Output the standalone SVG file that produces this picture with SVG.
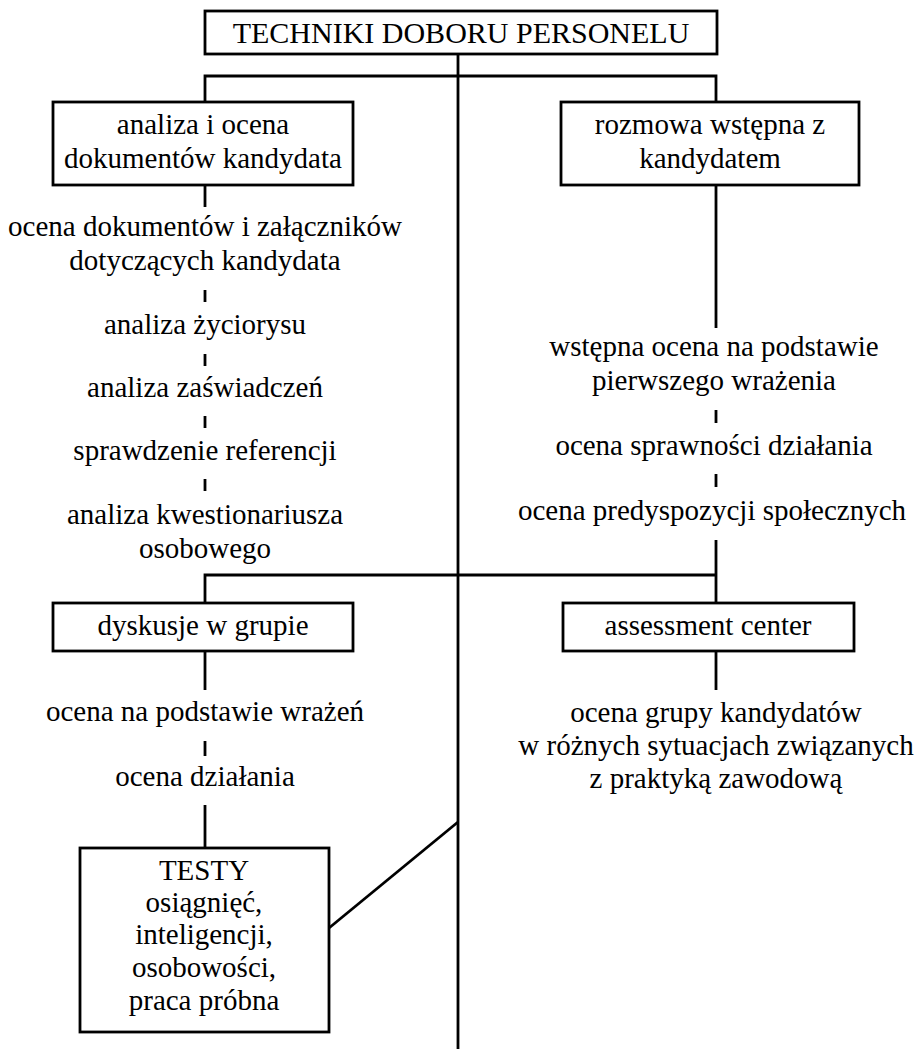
<svg xmlns="http://www.w3.org/2000/svg" width="915" height="1049" viewBox="0 0 915 1049" font-family="'Liberation Serif', Tinos, 'Times New Roman', 'DejaVu Serif', serif">
<style>
.box{fill:#fff;stroke:#000;stroke-width:2.8}
.ln{stroke:#000;stroke-width:2.8;fill:none}
.tk{stroke:#000;stroke-width:2.8}
text{font-family:'Liberation Serif', Tinos, 'Times New Roman', 'DejaVu Serif', serif;font-size:29px;fill:#000;text-anchor:middle}
.title{font-size:30px}
</style>
<rect width="915" height="1049" fill="#fff"/>
<g id="connectors">
<line class="ln" x1="458" y1="54" x2="458" y2="1049"/>
<polyline class="ln" points="205,102 205,76 716,76 716,102"/>
<line class="ln" x1="205" y1="185" x2="205" y2="207"/>
<line class="tk" x1="205" y1="290" x2="205" y2="302"/>
<line class="tk" x1="205" y1="354" x2="205" y2="366"/>
<line class="tk" x1="205" y1="416" x2="205" y2="428"/>
<line class="tk" x1="205" y1="479" x2="205" y2="491"/>
<line class="ln" x1="716" y1="185" x2="716" y2="328"/>
<line class="tk" x1="716" y1="410" x2="716" y2="423"/>
<line class="tk" x1="716" y1="474" x2="716" y2="487"/>
<polyline class="ln" points="205,603 205,575 716,575"/>
<line class="ln" x1="716" y1="540" x2="716" y2="603"/>
<line class="ln" x1="205" y1="651" x2="205" y2="690"/>
<line class="tk" x1="205" y1="741" x2="205" y2="756"/>
<line class="ln" x1="205" y1="805" x2="205" y2="848"/>
<line class="ln" x1="716" y1="651" x2="716" y2="690"/>
<line class="ln" x1="329" y1="928" x2="458" y2="822"/>
</g>
<g id="root">
<rect class="box" x="205" y="11" width="512" height="43"/>
<text class="title" x="461" y="43">TECHNIKI DOBORU PERSONELU</text>
</g>
<g id="analiza">
<rect class="box" x="53" y="102" width="300" height="83"/>
<text x="203" y="134">analiza i ocena</text>
<text x="203" y="168">dokumentów kandydata</text>
</g>
<g id="rozmowa">
<rect class="box" x="561" y="102" width="298" height="83"/>
<text x="710" y="134">rozmowa wstępna z</text>
<text x="710" y="168">kandydatem</text>
</g>
<g id="left-items">
<text x="205" y="236">ocena dokumentów i załączników</text>
<text x="205" y="270">dotyczących kandydata</text>
<text x="205" y="334">analiza życiorysu</text>
<text x="205" y="397">analiza zaświadczeń</text>
<text x="205" y="460">sprawdzenie referencji</text>
<text x="205" y="524">analiza kwestionariusza</text>
<text x="205" y="558">osobowego</text>
</g>
<g id="right-items">
<text x="714" y="356">wstępna ocena na podstawie</text>
<text x="714" y="390">pierwszego wrażenia</text>
<text x="714" y="455">ocena sprawności działania</text>
<text x="712" y="520">ocena predyspozycji społecznych</text>
</g>
<g id="dyskusje">
<rect class="box" x="53" y="603" width="300" height="48"/>
<text x="203" y="635">dyskusje w grupie</text>
</g>
<g id="assessment">
<rect class="box" x="563" y="603" width="291" height="48"/>
<text x="708" y="635">assessment center</text>
</g>
<g id="dyskusje-items">
<text x="205" y="721">ocena na podstawie wrażeń</text>
<text x="205" y="786">ocena działania</text>
</g>
<g id="assessment-items">
<text x="716" y="722">ocena grupy kandydatów</text>
<text x="716" y="755">w różnych sytuacjach związanych</text>
<text x="716" y="788">z praktyką zawodową</text>
</g>
<g id="testy">
<rect class="box" x="80" y="848" width="249" height="184"/>
<text x="204" y="880">TESTY</text>
<text x="204" y="912">osiągnięć,</text>
<text x="204" y="944">inteligencji,</text>
<text x="204" y="977">osobowości,</text>
<text x="204" y="1010">praca próbna</text>
</g>
</svg>
